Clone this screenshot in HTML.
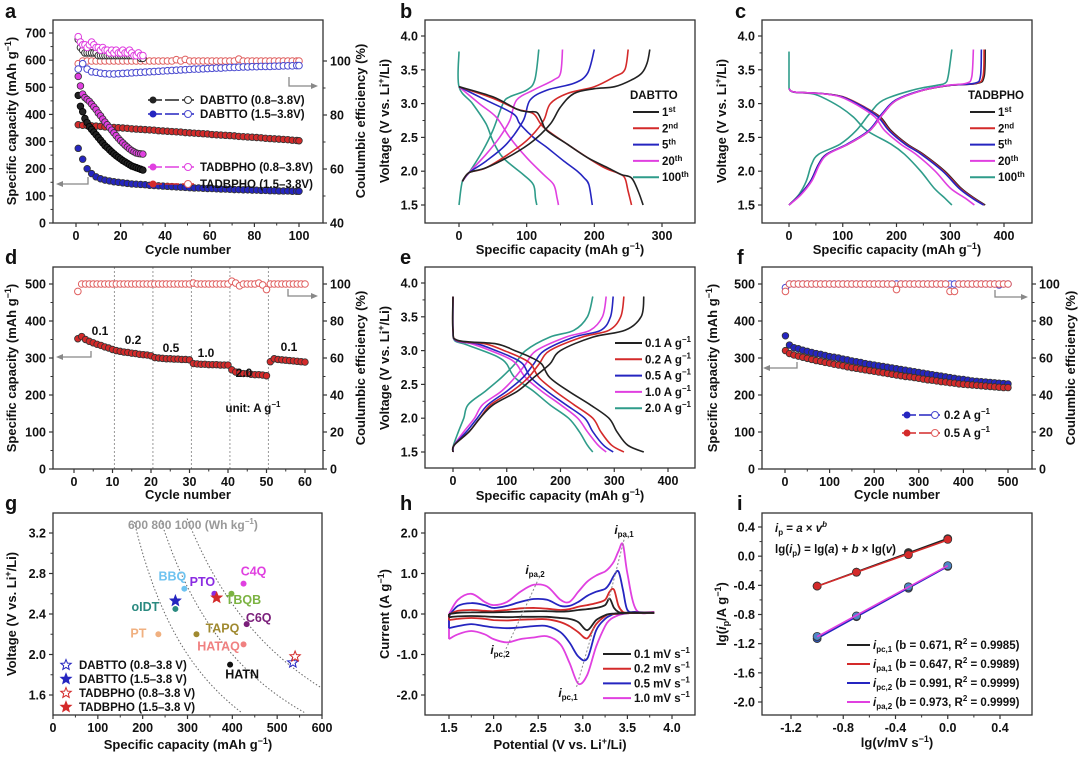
<!DOCTYPE html>
<html><head><meta charset="utf-8">
<style>
html,body{margin:0;padding:0;background:#fff;}
svg{display:block;font-family:"Liberation Sans",Arial,sans-serif;font-weight:bold;}
</style></head>
<body>
<svg id="fig" width="1080" height="757" viewBox="0 0 1080 757" xmlns="http://www.w3.org/2000/svg">
<rect width="1080" height="757" fill="#fff"/>
<g font-size="20" fill="#111">
<text x="5" y="18">a</text>
<text x="400" y="18">b</text>
<text x="735" y="18">c</text>
<text x="5" y="264">d</text>
<text x="400" y="264">e</text>
<text x="737" y="264">f</text>
<text x="5" y="510">g</text>
<text x="400" y="510">h</text>
<text x="737" y="510">i</text>
</g>
<g font-size="13" fill="#111" text-anchor="middle">
<text x="188" y="254">Cycle number</text>
<text transform="translate(16,121) rotate(-90)">Specific capacity (mAh g<tspan dy="-5" font-size="9">−1</tspan><tspan dy="5">)</tspan></text>
<text transform="translate(365,121) rotate(-90)">Coulumbic efficiency (%)</text>
<text x="560" y="254">Specific capacity (mAh g<tspan dy="-5" font-size="9">−1</tspan><tspan dy="5">)</tspan></text>
<text transform="translate(389,121) rotate(-90)">Voltage (V vs. Li<tspan dy="-5" font-size="9">+</tspan><tspan dy="5">/Li)</tspan></text>
<text x="897" y="254">Specific capacity (mAh g<tspan dy="-5" font-size="9">−1</tspan><tspan dy="5">)</tspan></text>
<text transform="translate(726,121) rotate(-90)">Voltage (V vs. Li<tspan dy="-5" font-size="9">+</tspan><tspan dy="5">/Li)</tspan></text>
<text x="188" y="499">Cycle number</text>
<text transform="translate(16,368) rotate(-90)">Specific capacity (mAh g<tspan dy="-5" font-size="9">−1</tspan><tspan dy="5">)</tspan></text>
<text transform="translate(365,368) rotate(-90)">Coulumbic efficiency (%)</text>
<text x="560" y="500">Specific capacity (mAh g<tspan dy="-5" font-size="9">−1</tspan><tspan dy="5">)</tspan></text>
<text transform="translate(389,368) rotate(-90)">Voltage (V vs. Li<tspan dy="-5" font-size="9">+</tspan><tspan dy="5">/Li)</tspan></text>
<text x="897" y="499">Cycle number</text>
<text transform="translate(717,368) rotate(-90)">Specific capacity (mAh g<tspan dy="-5" font-size="9">−1</tspan><tspan dy="5">)</tspan></text>
<text transform="translate(1075,368) rotate(-90)">Coulumbic efficiency (%)</text>
<text x="188" y="749">Specific capacity (mAh g<tspan dy="-5" font-size="9">−1</tspan><tspan dy="5">)</tspan></text>
<text transform="translate(16,614) rotate(-90)">Voltage (V vs. Li<tspan dy="-5" font-size="9">+</tspan><tspan dy="5">/Li)</tspan></text>
<text x="560" y="749">Potential (V vs. Li<tspan dy="-5" font-size="9">+</tspan><tspan dy="5">/Li)</tspan></text>
<text transform="translate(389,614) rotate(-90)">Current (A g<tspan dy="-5" font-size="9">−1</tspan><tspan dy="5">)</tspan></text>
<text x="897" y="747">lg(<tspan font-style="italic">v</tspan>/mV s<tspan dy="-5" font-size="9">−1</tspan><tspan dy="5">)</tspan></text>
<text transform="translate(726,614) rotate(-90)">lg(<tspan font-style="italic">i</tspan><tspan font-size="9" dy="3">p</tspan><tspan dy="-3">/A g</tspan><tspan dy="-5" font-size="9">−1</tspan><tspan dy="5">)</tspan></text>
</g>
</svg>
<script>
// ---------- data ----------
const aCyc30=[1,2,3,4,5,6,7,8,9,10,11,12,13,14,15,16,17,18,19,20,21,22,23,24,25,26,27,28,29,30];
const aDab08Cap=[470,430,410,385,370,355,345,335,325,315,305,295,285,278,270,262,255,248,242,236,230,225,220,215,210,207,204,201,198,195];
const aTad08Cap=[540,505,475,462,455,448,438,428,418,405,395,383,372,362,352,342,332,322,312,303,295,287,280,273,267,262,258,256,255,254];
const aDab08CE=[108,105,104,103,103,103,103,103,103,102,102,102,102,102,102,102,102,102,102,102,102,102,102,102,102,102,102,102,101,101];
const aTad08CE=[109,107,106,106,105,106,107,106,105,105,104,105,104,104,103,104,103,104,103,103,104,103,103,104,103,102,102,103,102,102];
const aCyc100=[1,3,5,7,9,11,13,15,17,19,21,23,25,27,29,31,33,35,37,39,41,43,45,47,49,51,53,55,57,59,61,63,65,67,69,71,73,75,77,79,81,83,85,87,89,91,93,95,97,99,100];
const aDab15Cap=[275,235,200,182,170,163,158,155,152,150,148,146,144,143,142,141,139,138,137,136,135,134,133,132,131,130,129,129,128,127,127,126,125,125,124,123,123,122,122,121,121,120,120,119,119,118,118,118,117,117,117];
const aTad15Cap=[362,360,359,358,357,356,354,353,352,351,350,349,347,346,345,344,343,342,340,339,338,337,336,335,333,332,331,330,329,328,326,325,324,323,322,321,319,318,317,316,315,314,312,311,310,309,308,307,305,304,303];
const aDab15CE=[97,99,97,96,95.8,95.5,95.3,95.2,95.2,95.3,95.4,95.5,95.6,95.7,95.8,95.9,96,96.1,96.2,96.3,96.4,96.5,96.6,96.7,96.8,96.9,97,97,97.1,97.2,97.3,97.4,97.4,97.5,97.6,97.6,97.7,97.8,97.8,97.9,97.9,98,98,98,98.1,98.1,98.2,98.2,98.2,98.3,98.3];
const aTad15CE=[99,100,100,100,100,100,100,100,100,100,100,100,100,100,100,100,100,100,100,100,100,100,100.5,100,100.6,100,100,100,100,100,100,100,100,100,100,100,100.7,100,100,100,100,100,100,100,100,100,100,100,100,100,100];
const aXTicks=[0,20,40,60,80,100], aYTicks=[0,100,200,300,400,500,600,700], aY2Ticks=[40,60,80,100];

const bDis1Cap=[0,50,85,100,115,122,130,160,190,220,240,255,265,272];
const bDis1V=[3.25,3.1,2.92,2.88,2.87,2.75,2.6,2.4,2.2,2.05,1.95,1.9,1.7,1.5];
const bDis2Cap=[0,50,85,110,125,160,190,215,235,245,250,255];
const bDis2V=[3.25,3.08,2.92,2.85,2.65,2.4,2.2,2.05,1.97,1.9,1.7,1.5];
const bDis5Cap=[0,40,80,90,110,130,155,175,185,192,197];
const bDis5V=[3.25,3.05,2.85,2.7,2.5,2.35,2.15,2.0,1.9,1.8,1.5];
const bDis20Cap=[0,30,55,75,100,125,140,145,147];
const bDis20V=[3.25,3.0,2.8,2.5,2.2,1.95,1.8,1.6,1.5];
const bDis100Cap=[0,0,20,40,50,65,95,110,113,115];
const bDis100V=[3.77,3.25,3.0,2.7,2.45,2.2,1.95,1.8,1.6,1.5];
const bChg1Cap=[5,15,40,80,110,135,150,170,200,230,255,270,278,282];
const bChg1V=[1.85,1.98,2.05,2.25,2.45,2.7,2.95,3.15,3.22,3.25,3.35,3.45,3.6,3.8];
const bChg2Cap=[5,15,40,80,105,125,135,160,200,230,245,250];
const bChg2V=[1.85,1.98,2.05,2.3,2.5,2.75,3.0,3.15,3.25,3.4,3.5,3.8];
const bChg5Cap=[5,15,40,70,95,105,130,170,190,200];
const bChg5V=[1.85,1.98,2.15,2.4,2.75,3.05,3.2,3.3,3.45,3.8];
const bChg20Cap=[5,15,40,60,75,85,110,140,150,153];
const bChg20V=[1.85,1.98,2.25,2.5,2.75,3.05,3.2,3.35,3.45,3.8];
const bChg100Cap=[0,5,15,35,50,65,75,100,112,118];
const bChg100V=[1.5,1.85,1.98,2.3,2.6,3.0,3.1,3.2,3.35,3.8];

const cDisV=[3.22,3.17,3.15,3.1,2.95,2.8,2.6,2.4,2.25,2.0,1.75,1.6,1.5];
const cDis1Cap=[0,10,60,100,140,170,190,220,250,290,320,345,365];
const cDis2Cap=[0,10,60,100,140,168,188,218,248,288,318,343,363];
const cDis5Cap=[0,10,60,98,138,166,186,216,246,286,316,341,362];
const cDis20Cap=[0,10,58,95,133,160,178,208,236,272,300,328,345];
const cDis100Cap=[0,8,40,60,95,120,145,190,215,245,270,290,303];
const cChgV=[1.5,1.65,1.85,2.1,2.25,2.4,2.6,2.85,3.05,3.2,3.27,3.3,3.4,3.8];
const cChg1Cap=[0,20,40,55,70,110,150,175,200,250,300,350,363,365];
const cChg2Cap=[0,20,40,55,70,110,150,175,200,250,300,348,361,363];
const cChg5Cap=[0,20,40,55,70,108,148,173,198,248,298,345,356,358];
const cChg20Cap=[0,22,42,57,72,110,150,175,200,250,295,330,340,343];
const cChg100Cap=[0,18,32,42,55,95,125,150,175,230,275,290,296,303];

const dCycles=[1,2,3,4,5,6,7,8,9,10,11,12,13,14,15,16,17,18,19,20,21,22,23,24,25,26,27,28,29,30,31,32,33,34,35,36,37,38,39,40,41,42,43,44,45,46,47,48,49,50,51,52,53,54,55,56,57,58,59,60];
const dCap=[352,358,350,345,341,337,334,330,327,323,320,318,316,315,313,312,310,309,308,306,301,300,299,298,298,297,297,296,296,295,285,284,283,283,282,282,282,281,281,281,268,262,259,258,258,256,255,255,254,252,290,298,296,295,294,293,292,291,290,289];
const dCE=[96,100,100,100,100,100,100,100,100,100,100,100,100,100,100,100,100,100,100,100,100,100,100,100,100,100,100,100,100,100,100.5,100,100,100,100,100,100,100,100,100,101.5,100.5,99,100,100,100,100,100.5,99.5,97,100,100,100,100,100,100,100,100,100,100];
const dRates=["0.1","0.2","0.5","1.0","2.0","0.1"];
const dXTicks=[0,10,20,30,40,50,60], dYTicks=[0,100,200,300,400,500], dY2Ticks=[0,20,40,60,80,100];

const eDisV=[3.8,3.3,3.15,3.1,3.0,2.9,2.8,2.6,2.4,2.2,2.0,1.8,1.6,1.5];
const eDis01=[0,0,10,80,115,145,165,180,215,255,290,305,325,355];
const eDis02=[0,0,8,60,95,125,145,160,190,225,260,275,295,318];
const eDis05=[0,0,6,45,80,110,130,145,175,210,245,260,280,298];
const eDis10=[0,0,5,35,70,100,118,135,165,200,232,250,270,285];
const eDis20=[0,0,3,20,55,85,100,115,150,180,215,235,250,260];
const eChgV=[1.5,1.6,1.8,2.0,2.2,2.4,2.6,2.8,3.0,3.2,3.3,3.5,3.8];
const eChg01=[0,2,30,50,75,120,150,180,200,260,320,350,355];
const eChg02=[0,2,30,50,70,110,140,160,180,240,290,312,318];
const eChg05=[0,2,25,45,65,100,130,150,170,225,275,293,298];
const eChg10=[0,2,20,40,55,90,115,135,155,210,255,278,285];
const eChg20=[0,1,10,20,28,60,90,115,135,180,225,250,260];

const fCycles=[1,10,20,30,40,50,60,70,80,90,100,110,120,130,140,150,160,170,180,190,200,210,220,230,240,250,260,270,280,290,300,310,320,330,340,350,360,370,380,390,400,410,420,430,440,450,460,470,480,490,500];
const fCap02=[360,335,328,325,321,318,315,312,310,307,304,302,300,297,295,292,290,288,285,283,281,279,277,275,273,271,269,267,265,263,261,259,257,255,253,251,249,247,245,243,242,240,238,237,236,235,234,233,232,231,230];
const fCap05=[320,312,308,305,302,299,296,293,291,288,286,283,281,279,276,274,272,270,268,266,264,262,260,258,256,254,252,250,249,247,245,243,241,240,238,236,235,233,232,230,229,228,227,226,225,224,223,222,221,220,220];
const fCE02=[98,100,100,100,100,100,100,100,100,100,100,100,100,100,100,100,100,100,100,100,100,100,100,100,100,100,100,100,100,100,100,100,100,100,100,100,100,100,100,100,100,100,100,100,100,100,100,100,99.5,100,100];
const fCE05=[96,100,100,100,100,100,100,100,100,100,100,100,100,100,100,100,100,100,100,100,100,100,100,100,100,97,100,100,100,100,100,100,100,100,100,100,100,96,96,100,100,100,100,100,100,100,100,100,100,100,100];
const fXTicks=[0,100,200,300,400,500];

const gNames=["BBQ","PTO","C4Q","TBQB","oIDT","C6Q","TAPQ","PT","HATAQ","HATN"];
const gCap=[293,360,425,398,273,432,320,235,425,395];
const gVolt=[2.65,2.6,2.7,2.6,2.45,2.3,2.2,2.2,2.1,1.9];
const gStarCap=[535,273,540,365];
const gStarVolt=[1.92,2.53,1.98,2.56];
const gEnergy=[600,800,1000];
const gXTicks=[0,100,200,300,400,500,600], gYTicks=[1.6,2.0,2.4,2.8,3.2];

const hPot=[1.5,1.6,1.75,1.9,2.0,2.15,2.3,2.45,2.6,2.75,2.85,2.95,3.05,3.15,3.25,3.3,3.35,3.4,3.45,3.5,3.6,3.8];
const h10Up=[0.0,0.35,0.5,0.3,0.22,0.3,0.55,0.72,0.68,0.35,0.3,0.55,0.8,0.95,1.05,1.15,1.3,1.55,1.72,1.0,0.1,0.05];
const h10Dn=[-0.62,-0.5,-0.42,-0.5,-0.62,-0.7,-0.62,-0.58,-0.55,-0.75,-1.2,-1.72,-1.5,-0.8,-0.3,-0.15,-0.08,-0.03,0,0.02,0.03,0.05];
const h05Up=[-0.05,0.2,0.27,0.22,0.15,0.2,0.3,0.37,0.35,0.2,0.2,0.3,0.45,0.55,0.62,0.75,0.95,1.05,0.6,0.1,0.05,0.03];
const h05Dn=[-0.35,-0.3,-0.25,-0.3,-0.33,-0.35,-0.33,-0.3,-0.3,-0.45,-0.7,-1.05,-1.1,-0.4,-0.12,-0.05,0,0,0.01,0.02,0.03,0.03];
const h02Up=[-0.02,0.08,0.1,0.08,0.07,0.1,0.14,0.15,0.13,0.1,0.12,0.18,0.22,0.27,0.35,0.55,0.6,0.2,0.05,0.03,0.03,0.03];
const h02Dn=[-0.15,-0.12,-0.1,-0.12,-0.15,-0.16,-0.14,-0.13,-0.13,-0.2,-0.3,-0.45,-0.6,-0.25,-0.05,0,0,0.01,0.02,0.02,0.03,0.03];
const h01Up=[0,0.03,0.04,0.04,0.04,0.05,0.06,0.07,0.07,0.06,0.07,0.1,0.12,0.15,0.22,0.38,0.15,0.05,0.03,0.03,0.03,0.03];
const h01Dn=[-0.08,-0.06,-0.05,-0.06,-0.07,-0.08,-0.07,-0.07,-0.07,-0.1,-0.12,-0.2,-0.4,-0.15,-0.03,0,0.01,0.02,0.02,0.03,0.03,0.03];
const hXTicks=[1.5,2.0,2.5,3.0,3.5,4.0], hYTicks=[-2.0,-1.0,0.0,1.0,2.0];

const iLgV=[-1,-0.699,-0.301,0];
const iPc1=[-0.41,-0.22,0.05,0.24];
const iPa1=[-0.41,-0.22,0.02,0.23];
const iPc2=[-1.13,-0.83,-0.44,-0.14];
const iPa2=[-1.1,-0.82,-0.42,-0.13];
const iXTicks=[-1.2,-0.8,-0.4,0.0,0.4], iYTicks=[-2.0,-1.6,-1.2,-0.8,-0.4,0.0,0.4];

// ---------- helpers ----------
const NS='http://www.w3.org/2000/svg';
const svg=document.getElementById('fig');
function mk(tag,attrs,name,parent){
  const e=document.createElementNS(NS,tag);
  for(const k in attrs) e.setAttribute(k,attrs[k]);
  
  
  (parent||svg).appendChild(e);
  return e;
}
function txt(x,y,s,name,o){
  o=o||{};
  const e=mk('text',{x:x,y:y,'font-size':o.size||12,fill:o.fill||'#111','text-anchor':o.anchor||'middle'},name);
  if(o.html) e.innerHTML=s; else e.textContent=s;
  return e;
}
function lin(d0,p0,d1,p1){return v=>p0+(v-d0)*(p1-p0)/(d1-d0);}
function frame(b,name){mk('rect',{x:b[0],y:b[1],width:b[2]-b[0],height:b[3]-b[1],fill:'none',stroke:'#333','stroke-width':1.3},name);}
function xAxis(b,s,ticks,fmt,minor,name){
  ticks.forEach((t,i)=>{const x=s(t);
    mk('line',{x1:x,y1:b[3],x2:x,y2:b[3]+4,stroke:'#333','stroke-width':1.2},name+'-tick');
    txt(x,b[3]+17,fmt(t),name+'-tick-label',{size:12.5});
    if(minor && i<ticks.length-1){const xm=s((t+ticks[i+1])/2);
      mk('line',{x1:xm,y1:b[3],x2:xm,y2:b[3]+2.5,stroke:'#333','stroke-width':1},name+'-minor-tick');}
  });
}
function yAxis(b,s,ticks,fmt,side,name){
  const x0=side==='r'?b[2]:b[0], d=side==='r'?1:-1;
  ticks.forEach((t,i)=>{const y=s(t);
    mk('line',{x1:x0,y1:y,x2:x0+4*d,y2:y,stroke:'#333','stroke-width':1.2},name+'-tick');
    txt(x0+7*d,y+4.5,fmt(t),name+'-tick-label',{size:12.5,anchor:side==='r'?'start':'end'});
    if(i<ticks.length-1){const ym=s((t+ticks[i+1])/2);
      mk('line',{x1:x0,y1:ym,x2:x0+2.5*d,y2:ym,stroke:'#333','stroke-width':1},name+'-minor-tick');}
  });
}
function smoothD(pts){
  if(pts.length<3) return 'M'+pts.map(p=>p.join(',')).join('L');
  let d='M'+pts[0][0]+','+pts[0][1];
  for(let i=0;i<pts.length-1;i++){
    const p0=pts[i-1]||pts[i],p1=pts[i],p2=pts[i+1],p3=pts[i+2]||p2;
    const c1=[p1[0]+(p2[0]-p0[0])/6,p1[1]+(p2[1]-p0[1])/6];
    const c2=[p2[0]-(p3[0]-p1[0])/6,p2[1]-(p3[1]-p1[1])/6];
    d+='C'+c1[0].toFixed(1)+','+c1[1].toFixed(1)+' '+c2[0].toFixed(1)+','+c2[1].toFixed(1)+' '+p2[0].toFixed(1)+','+p2[1].toFixed(1);
  }
  return d;
}
function curve(xs,ys,sx,sy,color,name,w){
  const n=Math.min(xs.length,ys.length),pts=[];
  for(let i=0;i<n;i++) pts.push([sx(xs[i]),sy(ys[i])]);
  return mk('path',{d:smoothD(pts),fill:'none',stroke:color,'stroke-width':w||1.6,'stroke-linejoin':'round'},name);
}
function markers(xs,ys,sx,sy,color,open,name,r){
  const n=Math.min(xs.length,ys.length);
  for(let i=0;i<n;i++){
    mk('circle',{cx:sx(xs[i]),cy:sy(ys[i]),r:r||3.3,fill:open?'#fff':color,stroke:open?color:shade(color),'stroke-width':open?1:0.8},name);
  }
}
function shade(c){return c==='#222'?'#000':'#333';}
function arrow(pts,name){
  mk('path',{d:'M'+pts.map(p=>p.join(',')).join('L'),fill:'none',stroke:'#888','stroke-width':1.3},name);
  const a=pts[pts.length-1],b=pts[pts.length-2],dir=a[0]>b[0]?1:-1;
  mk('path',{d:`M${a[0]+4*dir},${a[1]}L${a[0]-3*dir},${a[1]-3}L${a[0]-3*dir},${a[1]+3}Z`,fill:'#888'},name+'-head');
}
function legLine(x1,x2,y,color,label,name,size){
  mk('line',{x1:x1,y1:y,x2:x2,y2:y,stroke:color,'stroke-width':2},name+'-swatch');
  txt(x2+3,y+4,label,name,{size:size||11.5,anchor:'start',html:true});
}
const f0=v=>String(v), f1=v=>v.toFixed(1);
const BLK='#222',RED='#d42a2a',BLU='#2525c0',MAG='#e040e0',TEAL='#2f9c8a';

// ---------- panel a ----------
{const b=[53,20,323,223],sx=lin(0,76,100,299),sy=lin(0,223,700,33),sy2=lin(40,223,100,61);
 xAxis(b,sx,aXTicks,f0,true,'a-x-axis');yAxis(b,sy,aYTicks,f0,'l','a-y-axis');yAxis(b,sy2,aY2Ticks,f0,'r','a-y2-axis');
 const ce=v=>sy2(v);
 markers(aCyc100,aTad15CE,sx,ce,'#e06060',true,'a-tadbpho-1.5-ce-point');
 markers(aCyc100,aDab15CE,sx,ce,'#4a4ad0',true,'a-dabtto-1.5-ce-point');
 markers(aCyc30,aDab08CE,sx,ce,'#333',true,'a-dabtto-0.8-ce-point');
 markers(aCyc30,aTad08CE,sx,ce,MAG,true,'a-tadbpho-0.8-ce-point');
 markers(aCyc100,aTad15Cap,sx,sy,RED,false,'a-tadbpho-1.5-capacity-point');
 markers(aCyc100,aDab15Cap,sx,sy,BLU,false,'a-dabtto-1.5-capacity-point');
 markers(aCyc30,aDab08Cap,sx,sy,BLK,false,'a-dabtto-0.8-capacity-point');
 markers(aCyc30,aTad08Cap,sx,sy,MAG,false,'a-tadbpho-0.8-capacity-point');
 frame(b,'a-plot-frame');
 const lg=[[100,BLK,'#333','DABTTO (0.8–3.8V)'],[114,BLU,'#4a4ad0','DABTTO (1.5–3.8V)'],[167,MAG,MAG,'TADBPHO (0.8–3.8V)'],[184,RED,'#e06060','TADBPHO (1.5–3.8V)']];
 lg.forEach(l=>{mk('line',{x1:148,y1:l[0],x2:194,y2:l[0],stroke:l[1],'stroke-width':1.5,'stroke-dasharray':'14,3'},'a-legend-line');
  mk('circle',{cx:153,cy:l[0],r:3.5,fill:l[1]},'a-legend-filled-marker');
  mk('circle',{cx:188,cy:l[0],r:3.5,fill:'#fff',stroke:l[2]},'a-legend-open-marker');
  txt(200,l[0]+4,l[3],'a-legend-entry',{size:11.5,anchor:'start'});});
 arrow([[88,177],[88,184],[60,184]],'a-left-axis-arrow');
 arrow([[289,77],[289,86],[314,86]],'a-right-axis-arrow');
}
// ---------- panel b ----------
{const b=[425,20,695,223],sx=lin(0,459,300,662),sy=lin(1.5,205,4.0,36);
 xAxis(b,sx,[0,100,200,300],f0,true,'b-x-axis');yAxis(b,sy,[1.5,2.0,2.5,3.0,3.5,4.0],f1,'l','b-y-axis');
 curve(bDis100Cap,bDis100V,sx,sy,TEAL,'b-discharge-100th');curve(bChg100Cap,bChg100V,sx,sy,TEAL,'b-charge-100th');
 curve(bDis20Cap,bDis20V,sx,sy,MAG,'b-discharge-20th');curve(bChg20Cap,bChg20V,sx,sy,MAG,'b-charge-20th');
 curve(bDis5Cap,bDis5V,sx,sy,BLU,'b-discharge-5th');curve(bChg5Cap,bChg5V,sx,sy,BLU,'b-charge-5th');
 curve(bDis2Cap,bDis2V,sx,sy,RED,'b-discharge-2nd');curve(bChg2Cap,bChg2V,sx,sy,RED,'b-charge-2nd');
 curve(bDis1Cap,bDis1V,sx,sy,BLK,'b-discharge-1st');curve(bChg1Cap,bChg1V,sx,sy,BLK,'b-charge-1st');
 frame(b,'b-plot-frame');
 txt(630,99,'DABTTO','b-legend-title',{size:11.5,anchor:'start'});
 const L=[[BLK,'1<tspan dy="-4" font-size="8">st</tspan>'],[RED,'2<tspan dy="-4" font-size="8">nd</tspan>'],[BLU,'5<tspan dy="-4" font-size="8">th</tspan>'],[MAG,'20<tspan dy="-4" font-size="8">th</tspan>'],[TEAL,'100<tspan dy="-4" font-size="8">th</tspan>']];
 L.forEach((l,i)=>legLine(633,659,112+i*16.3,l[0],l[1],'b-legend-entry'));
}
// ---------- panel c ----------
{const b=[762,20,1032,223],sx=lin(0,789,400,1004),sy=lin(1.5,205,4.0,36);
 xAxis(b,sx,[0,100,200,300,400],f0,true,'c-x-axis');yAxis(b,sy,[1.5,2.0,2.5,3.0,3.5,4.0],f1,'l','c-y-axis');
 mk('line',{x1:sx(0),y1:sy(3.77),x2:sx(0),y2:sy(3.22),stroke:TEAL,'stroke-width':1.6},'c-rest-segment');
 curve(cDis100Cap,cDisV,sx,sy,TEAL,'c-discharge-100th');curve(cChg100Cap,cChgV,sx,sy,TEAL,'c-charge-100th');
 curve(cDis1Cap,cDisV,sx,sy,BLK,'c-discharge-1st');curve(cChg1Cap,cChgV,sx,sy,BLK,'c-charge-1st');
 curve(cDis2Cap,cDisV,sx,sy,RED,'c-discharge-2nd');curve(cChg2Cap,cChgV,sx,sy,RED,'c-charge-2nd');
 curve(cDis5Cap,cDisV,sx,sy,BLU,'c-discharge-5th');curve(cChg5Cap,cChgV,sx,sy,BLU,'c-charge-5th');
 curve(cDis20Cap,cDisV,sx,sy,MAG,'c-discharge-20th');curve(cChg20Cap,cChgV,sx,sy,MAG,'c-charge-20th');
 frame(b,'c-plot-frame');
 txt(968,99,'TADBPHO','c-legend-title',{size:11.5,anchor:'start'});
 const L=[[BLK,'1<tspan dy="-4" font-size="8">st</tspan>'],[RED,'2<tspan dy="-4" font-size="8">nd</tspan>'],[BLU,'5<tspan dy="-4" font-size="8">th</tspan>'],[MAG,'20<tspan dy="-4" font-size="8">th</tspan>'],[TEAL,'100<tspan dy="-4" font-size="8">th</tspan>']];
 L.forEach((l,i)=>legLine(970,995,112+i*16.3,l[0],l[1],'c-legend-entry'));
}
// ---------- panel d ----------
{const b=[53,267,323,469],sx=lin(0,74,60,305),sy=lin(0,469,500,284),sy2=lin(0,469,100,284);
 xAxis(b,sx,dXTicks,f0,true,'d-x-axis');yAxis(b,sy,dYTicks,f0,'l','d-y-axis');yAxis(b,sy2,dY2Ticks,f0,'r','d-y2-axis');
 [10.5,20.5,30.5,40.5,50.5].forEach(c=>mk('line',{x1:sx(c),y1:b[1],x2:sx(c),y2:b[3],stroke:'#999','stroke-width':1,'stroke-dasharray':'2,2'},'d-rate-divider'));
 markers(dCycles,dCE,sx,sy2,'#e06060',true,'d-ce-point');
 markers(dCycles,dCap,sx,sy,RED,false,'d-capacity-point');
 frame(b,'d-plot-frame');
 const lp=[[100,335],[133,344],[171,352],[206,357],[244,377],[289,351]];
 dRates.forEach((r,i)=>txt(lp[i][0],lp[i][1],r,'d-rate-label',{size:12}));
 txt(253,412,'unit: A g<tspan dy="-5" font-size="8">−1</tspan>','d-unit-label',{size:11.5,html:true});
 arrow([[91,351],[91,357],[60,357]],'d-left-axis-arrow');
 arrow([[288,289],[288,296],[314,296]],'d-right-axis-arrow');
}
// ---------- panel e ----------
{const b=[425,267,695,468],sx=lin(0,453,400,668),sy=lin(1.5,452,4.0,283);
 xAxis(b,sx,[0,100,200,300,400],f0,true,'e-x-axis');yAxis(b,sy,[1.5,2.0,2.5,3.0,3.5,4.0],f1,'l','e-y-axis');
 const S=[[eDis20,eChg20,TEAL,'2.0'],[eDis10,eChg10,MAG,'1.0'],[eDis05,eChg05,BLU,'0.5'],[eDis02,eChg02,RED,'0.2'],[eDis01,eChg01,BLK,'0.1']];
 S.forEach(s=>{curve(s[0],eDisV,sx,sy,s[2],'e-discharge-'+s[3]);curve(s[1],eChgV,sx,sy,s[2],'e-charge-'+s[3]);});
 frame(b,'e-plot-frame');
 S.slice().reverse().forEach((s,i)=>legLine(615,642,343+i*16.3,s[2],s[3]+' A g<tspan dy="-5" font-size="8">−1</tspan>','e-legend-entry'));
}
// ---------- panel f ----------
{const b=[762,267,1032,469],sx=lin(0,785,500,1008),sy=lin(0,469,500,284),sy2=lin(0,469,100,284);
 xAxis(b,sx,fXTicks,f0,true,'f-x-axis');yAxis(b,sy,dYTicks,f0,'l','f-y-axis');yAxis(b,sy2,dY2Ticks,f0,'r','f-y2-axis');
 markers(fCycles,fCE02,sx,sy2,'#4a4ad0',true,'f-0.2-ce-point');
 markers(fCycles,fCE05,sx,sy2,'#e06060',true,'f-0.5-ce-point');
 markers(fCycles,fCap02,sx,sy,BLU,false,'f-0.2-capacity-point');
 markers(fCycles,fCap05,sx,sy,RED,false,'f-0.5-capacity-point');
 frame(b,'f-plot-frame');
 [[415,BLU,'#4a4ad0','0.2'],[433,RED,'#e06060','0.5']].forEach(l=>{
  mk('line',{x1:902,y1:l[0],x2:940,y2:l[0],stroke:l[1],'stroke-width':1.5,'stroke-dasharray':'14,3'},'f-legend-line');
  mk('circle',{cx:907,cy:l[0],r:3.5,fill:l[1]},'f-legend-filled-marker');
  mk('circle',{cx:935,cy:l[0],r:3.5,fill:'#fff',stroke:l[2]},'f-legend-open-marker');
  txt(944,l[0]+4,l[3]+' A g<tspan dy="-5" font-size="8">−1</tspan>','f-legend-entry',{size:11.5,anchor:'start',html:true});});
 arrow([[797,362],[797,368],[767,368]],'f-left-axis-arrow');
 arrow([[995,290],[995,297],[1024,297]],'f-right-axis-arrow');
}
// ---------- panel g ----------
{const b=[53,513,322,715],sx=lin(0,53,600,322),sy=lin(1.6,695,3.2,533);
 xAxis(b,sx,gXTicks,f0,true,'g-x-axis');yAxis(b,sy,gYTicks,f1,'l','g-y-axis');
 gEnergy.forEach(E=>{const pts=[];for(let c=E/3.4;c<=Math.min(600,E/1.42);c+=5){pts.push([sx(c),sy(E/c)]);}
  const cl=pts.filter(p=>p[1]>=b[1]&&p[1]<=b[3]&&p[0]<=b[2]);
  mk('path',{d:'M'+cl.map(p=>p[0].toFixed(1)+','+p[1].toFixed(1)).join('L'),fill:'none',stroke:'#666','stroke-width':1,'stroke-dasharray':'1.5,2'},'g-energy-curve-'+E);});
 txt(128,529,'600  800  1000  (Wh kg<tspan dy="-5" font-size="8">−1</tspan><tspan dy="5">)</tspan>','g-energy-labels',{size:12,fill:'#999',anchor:'start',html:true});
 const gCol=['#6ec3f0','#8a2be2','#e040e0','#7cb342','#2a8a80','#7b1f7b','#a08a30','#f0b080','#f08080','#111'];
 const gOff=[[-12,-8],[-12,-8],[10,-8],[12,10],[-30,2],[12,-2],[26,-2],[-20,3],[-25,6],[12,14]];
 gNames.forEach((n,i)=>{const x=sx(gCap[i]),y=sy(gVolt[i]);
  mk('circle',{cx:x,cy:y,r:3,fill:gCol[i]},'g-point-'+n);
  txt(x+gOff[i][0],y+gOff[i][1],n,'g-point-label-'+n,{size:12.5,fill:gCol[i]});});
 const stCol=[BLU,BLU,RED,RED],stOpen=[true,false,true,false];
 const star=(x,y,c,o,nm)=>{let d='';for(let k=0;k<10;k++){const r=k%2?2.4:5.5,a=-Math.PI/2+k*Math.PI/5;d+=(k?'L':'M')+(x+r*Math.cos(a)).toFixed(1)+','+(y+r*Math.sin(a)).toFixed(1);}
  mk('path',{d:d+'Z',fill:o?'#fff':c,stroke:c,'stroke-width':1},nm);};
 gStarCap.forEach((c,i)=>star(sx(c),sy(gStarVolt[i]),stCol[i],stOpen[i],'g-star-point'));
 ['DABTTO (0.8–3.8 V)','DABTTO (1.5–3.8 V)','TADBPHO (0.8–3.8 V)','TADBPHO (1.5–3.8 V)'].forEach((l,i)=>{
  star(66,665+i*14,stCol[i],stOpen[i],'g-legend-marker');
  txt(79,669+i*14,l,'g-legend-entry',{size:11.5,anchor:'start'});});
 frame(b,'g-plot-frame');
}
// ---------- panel h ----------
{const b=[425,513,695,715],sx=lin(1.5,449,4.0,672),sy=lin(-2,695,2,533);
 xAxis(b,sx,hXTicks,f1,true,'h-x-axis');yAxis(b,sy,hYTicks,f1,'l','h-y-axis');
 const S=[[h10Up,h10Dn,MAG,'1.0'],[h05Up,h05Dn,BLU,'0.5'],[h02Up,h02Dn,RED,'0.2'],[h01Up,h01Dn,BLK,'0.1']];
 S.forEach(s=>{curve(hPot,s[0],sx,sy,s[2],'h-cv-anodic-'+s[3],1.8);curve(hPot,s[1],sx,sy,s[2],'h-cv-cathodic-'+s[3],1.8);
  mk('line',{x1:sx(1.5),y1:sy(s[0][0]),x2:sx(1.5),y2:sy(s[1][0]),stroke:s[2],'stroke-width':1.8},'h-cv-vertex-'+s[3]);});
 const gl=(a,c,n)=>mk('line',{x1:sx(a[0]),y1:sy(a[1]),x2:sx(c[0]),y2:sy(c[1]),stroke:'#888','stroke-width':1,'stroke-dasharray':'2,2'},n);
 gl([3.29,0.35],[3.47,1.9],'h-guide-ipa1');gl([2.93,-1.8],[3.12,-0.35],'h-guide-ipc1');gl([2.12,-0.95],[2.5,0.85],'h-guide-ipc2-ipa2');
 txt(624,534,'<tspan font-style="italic">i</tspan><tspan font-size="8" dy="3">pa,1</tspan>','h-label-ipa1',{size:12,html:true});
 txt(535,574,'<tspan font-style="italic">i</tspan><tspan font-size="8" dy="3">pa,2</tspan>','h-label-ipa2',{size:12,html:true});
 txt(500,654,'<tspan font-style="italic">i</tspan><tspan font-size="8" dy="3">pc,2</tspan>','h-label-ipc2',{size:12,html:true});
 txt(568,697,'<tspan font-style="italic">i</tspan><tspan font-size="8" dy="3">pc,1</tspan>','h-label-ipc1',{size:12,html:true});
 S.slice().reverse().forEach((s,i)=>legLine(603,631,654+i*14.7,s[2],s[3]+' mV s<tspan dy="-5" font-size="8">−1</tspan>','h-legend-entry'));
 frame(b,'h-plot-frame');
}
// ---------- panel i ----------
{const b=[762,513,1032,715],sx=lin(-1.2,791,0.4,1000),sy=lin(-2,702,0.4,527);
 xAxis(b,sx,iXTicks,f1,true,'i-x-axis');yAxis(b,sy,iYTicks,f1,'l','i-y-axis');
 const S=[[iPc1,BLK,'#333','pc,1','0.671','0.9985'],[iPa1,RED,RED,'pa,1','0.647','0.9989'],[iPc2,BLU,'#2d55b5','pc,2','0.991','0.9999'],[iPa2,MAG,'#4f86c6','pa,2','0.973','0.9999']];
 S.forEach(s=>{const ys=s[0],n=iLgV.length,mx=iLgV.reduce((a,v)=>a+v,0)/n,my=ys.reduce((a,v)=>a+v,0)/n;
  let num=0,den=0;for(let k=0;k<n;k++){num+=(iLgV[k]-mx)*(ys[k]-my);den+=(iLgV[k]-mx)**2;}
  const sl=num/den,ic=my-sl*mx;
  markers(iLgV,ys,sx,sy,s[2],false,'i-point-'+s[3],4);
  mk('line',{x1:sx(-1),y1:sy(ic-sl),x2:sx(0),y2:sy(ic),stroke:s[1],'stroke-width':1.6},'i-fit-line-'+s[3]);});
 txt(775,532,'<tspan font-style="italic">i</tspan><tspan font-size="8" dy="3">p</tspan><tspan dy="-3"> = </tspan><tspan font-style="italic">a</tspan> × <tspan font-style="italic">v</tspan><tspan font-style="italic" font-size="8" dy="-5">b</tspan>','i-equation-1',{size:11.5,anchor:'start',html:true});
 txt(775,553,'lg(<tspan font-style="italic">i</tspan><tspan font-size="8" dy="3">p</tspan><tspan dy="-3">) = lg(</tspan><tspan font-style="italic">a</tspan>) + <tspan font-style="italic">b</tspan> × lg(<tspan font-style="italic">v</tspan>)','i-equation-2',{size:11.5,anchor:'start',html:true});
 S.forEach((s,i)=>legLine(847,870,645+i*19,s[1],'<tspan font-style="italic">i</tspan><tspan font-size="8" dy="3">'+s[3]+'</tspan><tspan dy="-3"> (b = '+s[4]+', R</tspan><tspan font-size="8" dy="-5">2</tspan><tspan dy="5"> = '+s[5]+')</tspan>','i-legend-entry',11.5));
 frame(b,'i-plot-frame');
}
</script>
</body></html>
